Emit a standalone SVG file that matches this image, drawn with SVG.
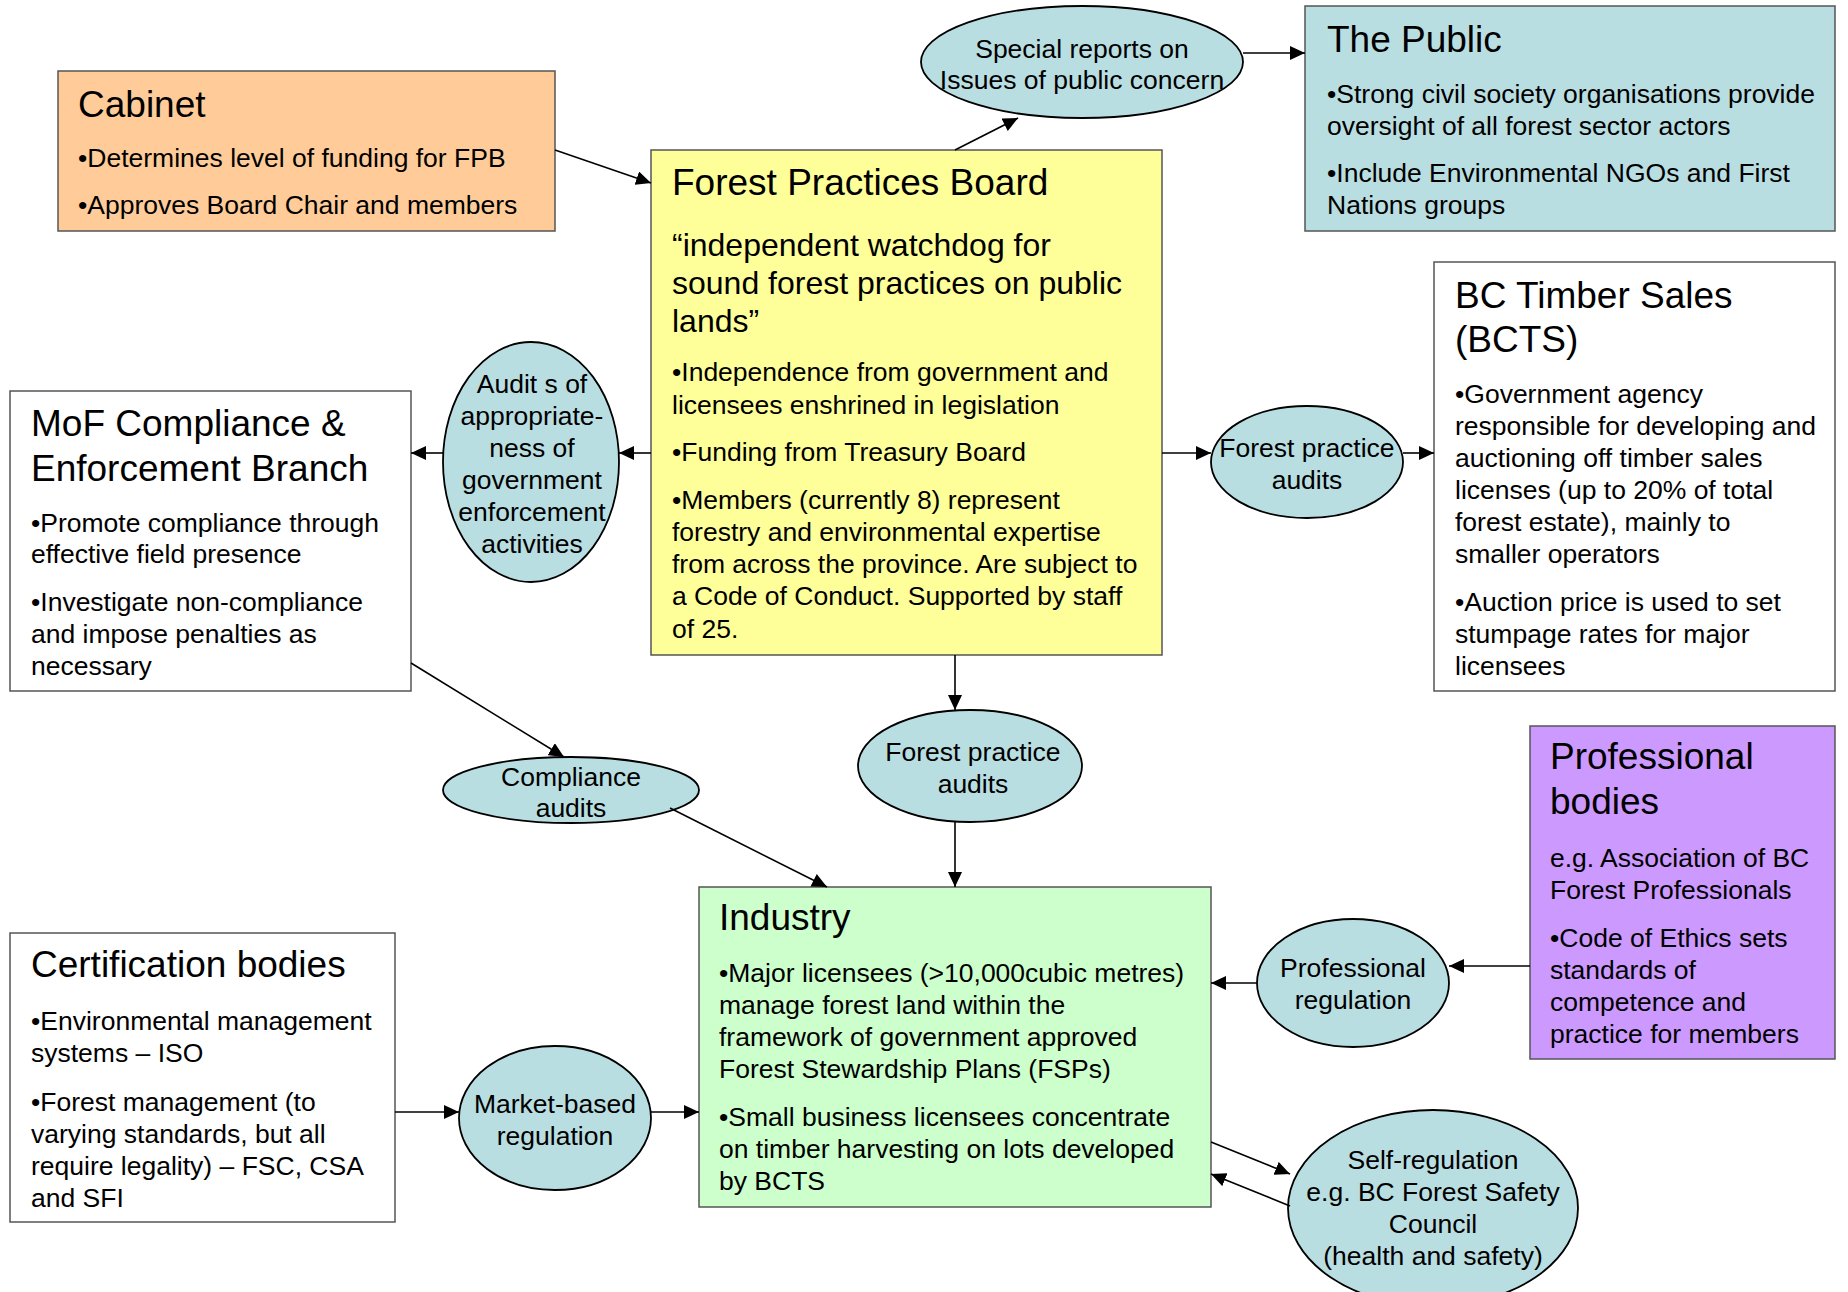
<svg xmlns="http://www.w3.org/2000/svg" width="1848" height="1292" viewBox="0 0 1848 1292">
<defs>
<style>
text{font-family:"Liberation Sans",Arial,sans-serif;fill:#000}
.t{font-size:37px}
.q{font-size:32px}
.b{font-size:26.5px}
.c{font-size:26.5px;text-anchor:middle}
.box{stroke:#555;stroke-width:1.5}
.ell{fill:#B9DEE2;stroke:#000;stroke-width:1.8}
.con line{stroke:#000;stroke-width:1.6;marker-end:url(#ah)}
</style>
<marker id="ah" markerUnits="userSpaceOnUse" markerWidth="15" markerHeight="14" refX="15" refY="7" orient="auto">
<path d="M0,0 L15,7 L0,14 z" fill="#000"/>
</marker>
</defs>
<rect width="1848" height="1292" fill="#fff"/>

<g id="cabinet">
<rect class="box" x="58" y="71" width="497" height="160" fill="#FFCC99"/>
<text class="t" x="78" y="117">Cabinet</text>
<text class="b" x="78" y="167">•Determines level of funding for FPB</text>
<text class="b" x="78" y="214">•Approves Board Chair and members</text>
</g>

<g id="fpb">
<rect class="box" x="651" y="150" width="511" height="505" fill="#FFFF99"/>
<text class="t" x="672" y="195">Forest Practices Board</text>
<text class="q" x="672" y="256">“independent watchdog for</text>
<text class="q" x="672" y="294">sound forest practices on public</text>
<text class="q" x="672" y="332">lands”</text>
<text class="b" x="672" y="381">•Independence from government and</text>
<text class="b" x="672" y="414">licensees enshrined in legislation</text>
<text class="b" x="672" y="461">•Funding from Treasury Board</text>
<text class="b" x="672" y="509">•Members (currently 8) represent</text>
<text class="b" x="672" y="541">forestry and environmental expertise</text>
<text class="b" x="672" y="573">from across the province. Are subject to</text>
<text class="b" x="672" y="605">a Code of Conduct. Supported by staff</text>
<text class="b" x="672" y="638">of 25.</text>
</g>

<g id="special-reports">
<ellipse class="ell" cx="1082" cy="62" rx="161" ry="56"/>
<text class="c" x="1082" y="58">Special reports on</text>
<text class="c" x="1082" y="89">Issues of public concern</text>
</g>

<g id="public">
<rect class="box" x="1305" y="6" width="530" height="225" fill="#B9DEE2"/>
<text class="t" x="1327" y="52">The Public</text>
<text class="b" x="1327" y="103">•Strong civil society organisations provide</text>
<text class="b" x="1327" y="135">oversight of all forest sector actors</text>
<text class="b" x="1327" y="182">•Include Environmental NGOs and First</text>
<text class="b" x="1327" y="214">Nations groups</text>
</g>

<g id="bcts">
<rect class="box" x="1434" y="262" width="401" height="429" fill="#fff"/>
<text class="t" x="1455" y="308">BC Timber Sales</text>
<text class="t" x="1455" y="352">(BCTS)</text>
<text class="b" x="1455" y="403">•Government agency</text>
<text class="b" x="1455" y="435">responsible for developing and</text>
<text class="b" x="1455" y="467">auctioning off timber sales</text>
<text class="b" x="1455" y="499">licenses (up to 20% of total</text>
<text class="b" x="1455" y="531">forest estate), mainly to</text>
<text class="b" x="1455" y="563">smaller operators</text>
<text class="b" x="1455" y="611">•Auction price is used to set</text>
<text class="b" x="1455" y="643">stumpage rates for major</text>
<text class="b" x="1455" y="675">licensees</text>
</g>

<g id="mof">
<rect class="box" x="10" y="391" width="401" height="300" fill="#fff"/>
<text class="t" x="31" y="436">MoF Compliance &amp;</text>
<text class="t" x="31" y="481">Enforcement Branch</text>
<text class="b" x="31" y="532">•Promote compliance through</text>
<text class="b" x="31" y="563">effective field presence</text>
<text class="b" x="31" y="611">•Investigate non-compliance</text>
<text class="b" x="31" y="643">and impose penalties as</text>
<text class="b" x="31" y="675">necessary</text>
</g>

<g id="audits-gov">
<ellipse class="ell" cx="531" cy="462" rx="88" ry="120"/>
<text class="c" x="532" y="393">Audit s of</text>
<text class="c" x="532" y="425">appropriate-</text>
<text class="c" x="532" y="457">ness of</text>
<text class="c" x="532" y="489">government</text>
<text class="c" x="532" y="521">enforcement</text>
<text class="c" x="532" y="553">activities</text>
</g>

<g id="fp-audits-right">
<ellipse class="ell" cx="1307" cy="462" rx="96" ry="56"/>
<text class="c" x="1307" y="457">Forest practice</text>
<text class="c" x="1307" y="489">audits</text>
</g>

<g id="fp-audits-center">
<ellipse class="ell" cx="970" cy="766" rx="112" ry="56"/>
<text class="c" x="973" y="761">Forest practice</text>
<text class="c" x="973" y="793">audits</text>
</g>

<g id="compliance-audits">
<ellipse class="ell" cx="571" cy="790" rx="128" ry="33"/>
<text class="c" x="571" y="786">Compliance</text>
<text class="c" x="571" y="817">audits</text>
</g>

<g id="industry">
<rect class="box" x="699" y="887" width="512" height="320" fill="#CCFFCC"/>
<text class="t" x="719" y="930">Industry</text>
<text class="b" x="719" y="982">•Major licensees (&gt;10,000cubic metres)</text>
<text class="b" x="719" y="1014">manage forest land within the</text>
<text class="b" x="719" y="1046">framework of government approved</text>
<text class="b" x="719" y="1078">Forest Stewardship Plans (FSPs)</text>
<text class="b" x="719" y="1126">•Small business licensees concentrate</text>
<text class="b" x="719" y="1158">on timber harvesting on lots developed</text>
<text class="b" x="719" y="1190">by BCTS</text>
</g>

<g id="certification">
<rect class="box" x="10" y="933" width="385" height="289" fill="#fff"/>
<text class="t" x="31" y="977">Certification bodies</text>
<text class="b" x="31" y="1030">•Environmental management</text>
<text class="b" x="31" y="1062">systems – ISO</text>
<text class="b" x="31" y="1111">•Forest management (to</text>
<text class="b" x="31" y="1143">varying standards, but all</text>
<text class="b" x="31" y="1175">require legality) – FSC, CSA</text>
<text class="b" x="31" y="1207">and SFI</text>
</g>

<g id="market-based">
<ellipse class="ell" cx="555" cy="1118" rx="96" ry="72"/>
<text class="c" x="555" y="1113">Market-based</text>
<text class="c" x="555" y="1145">regulation</text>
</g>

<g id="professional-bodies">
<rect class="box" x="1530" y="726" width="305" height="333" fill="#CC99FF"/>
<text class="t" x="1550" y="769">Professional</text>
<text class="t" x="1550" y="814">bodies</text>
<text class="b" x="1550" y="867">e.g. Association of BC</text>
<text class="b" x="1550" y="899">Forest Professionals</text>
<text class="b" x="1550" y="947">•Code of Ethics sets</text>
<text class="b" x="1550" y="979">standards of</text>
<text class="b" x="1550" y="1011">competence and</text>
<text class="b" x="1550" y="1043">practice for members</text>
</g>

<g id="professional-regulation">
<ellipse class="ell" cx="1353" cy="983" rx="96" ry="64"/>
<text class="c" x="1353" y="977">Professional</text>
<text class="c" x="1353" y="1009">regulation</text>
</g>

<g id="self-regulation">
<ellipse class="ell" cx="1433" cy="1208" rx="145" ry="98"/>
<text class="c" x="1433" y="1169">Self-regulation</text>
<text class="c" x="1433" y="1201">e.g. BC Forest Safety</text>
<text class="c" x="1433" y="1233">Council</text>
<text class="c" x="1433" y="1265">(health and safety)</text>
</g>

<g id="connectors" class="con">
<line x1="555" y1="150" x2="651" y2="183"/>
<line x1="955" y1="150" x2="1018" y2="118"/>
<line x1="1243" y1="53" x2="1305" y2="53"/>
<line x1="651" y1="453" x2="619" y2="453"/>
<line x1="443" y1="453" x2="411" y2="453"/>
<line x1="1162" y1="453" x2="1211" y2="453"/>
<line x1="1403" y1="453" x2="1434" y2="453"/>
<line x1="955" y1="655" x2="955" y2="710"/>
<line x1="955" y1="822" x2="955" y2="887"/>
<line x1="411" y1="663" x2="564" y2="757"/>
<line x1="670" y1="808" x2="827" y2="887"/>
<line x1="395" y1="1112" x2="459" y2="1112"/>
<line x1="651" y1="1112" x2="699" y2="1112"/>
<line x1="1530" y1="966" x2="1449" y2="966"/>
<line x1="1257" y1="983" x2="1211" y2="983"/>
<line x1="1211" y1="1142" x2="1290" y2="1174"/>
<line x1="1290" y1="1206" x2="1211" y2="1174"/>
</g>
</svg>
